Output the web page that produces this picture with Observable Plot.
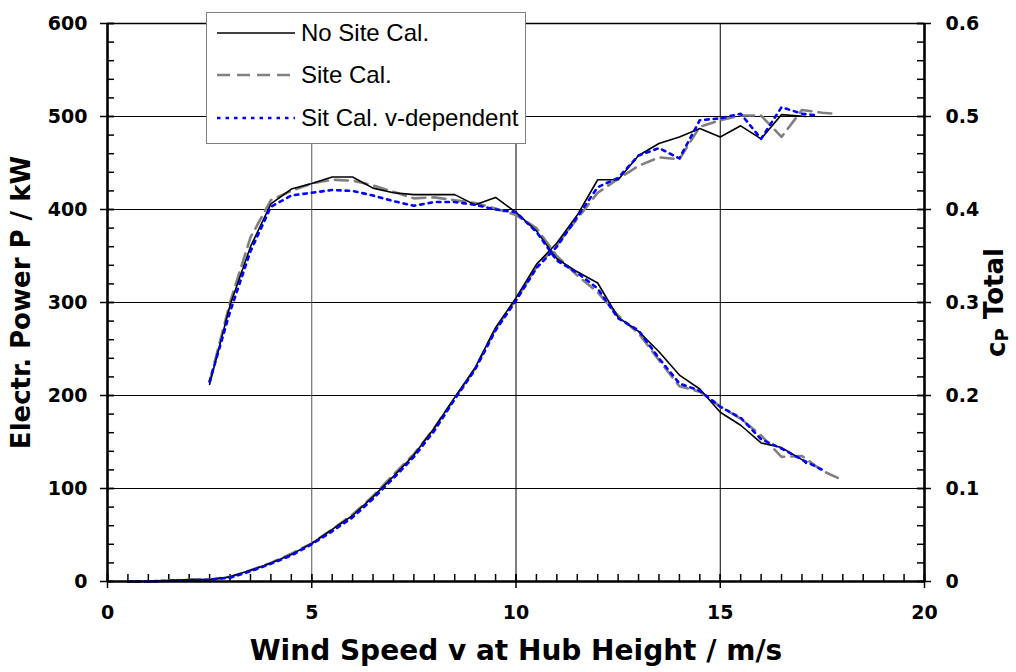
<!DOCTYPE html>
<html><head><meta charset="utf-8">
<script src="https://cdn.jsdelivr.net/npm/d3@7"></script>
<script src="https://cdn.jsdelivr.net/npm/@observablehq/plot@0.6"></script>
<style>
body{margin:0;background:#fff;}
#wrap{position:relative;width:1016px;height:672px;font-family:"Liberation Sans",Arial,sans-serif;}
#chart{position:absolute;left:0;top:0;}
#legend{position:absolute;left:206px;top:12px;width:318px;height:130px;border:1.5px solid #808080;background:#fff;}
.row{position:absolute;left:0;height:30px;display:flex;align-items:center;}
.row svg{margin-left:10px;}
.row span{margin-left:6px;font-size:24px;color:#000;white-space:nowrap;}
</style></head>
<body><div id="wrap"><div id="chart"></div><div id="legend"></div></div>
<script>
// ---- data ----
const seriesNames = ["No Site Cal.", "Site Cal.", "Sit Cal. v-dependent"];

// cP total (right axis)
const vCpNoSite = [2.5,3,3.5,4,4.5,5,5.5,6,6.5,7,7.5,8,8.5,9,9.5,10,10.5,11,11.5,12,12.5,13,13.5,14,14.5,15,15.5,16,16.5,17,17.1];
const cpNoSite  = [0.212,0.297,0.360,0.406,0.422,0.428,0.435,0.435,0.423,0.418,0.416,0.416,0.416,0.405,0.413,0.397,0.377,0.347,0.333,0.321,0.284,0.269,0.247,0.222,0.207,0.182,0.168,0.149,0.144,0.131,0.127];
const vCpSite = [2.5,3,3.5,4,4.5,5,5.5,6,6.5,7,7.5,8,8.5,9,9.5,10,10.5,11,11.5,12,12.5,13,13.5,14,14.5,15,15.5,16,16.5,17,17.5,18];
const cpSite  = [0.215,0.300,0.370,0.410,0.420,0.428,0.432,0.431,0.426,0.419,0.412,0.413,0.410,0.407,0.401,0.394,0.380,0.350,0.329,0.311,0.286,0.267,0.238,0.210,0.204,0.188,0.175,0.157,0.134,0.135,0.119,0.109];
const vCpVdep = [2.5,3,3.5,4,4.5,5,5.5,6,6.5,7,7.5,8,8.5,9,9.5,10,10.5,11,11.5,12,12.5,13,13.5,14,14.5,15,15.5,16,16.5,17,17.5];
const cpVdep  = [0.215,0.290,0.355,0.403,0.415,0.418,0.421,0.420,0.415,0.409,0.404,0.408,0.408,0.405,0.400,0.397,0.376,0.345,0.332,0.315,0.283,0.270,0.240,0.213,0.205,0.188,0.176,0.153,0.143,0.131,0.120];

// Electrical power (left axis, kW)
const vPNoSite = [0.5,1,1.5,2,2.5,3,3.5,4,4.5,5,5.5,6,6.5,7,7.5,8,8.5,9,9.5,10,10.5,11,11.5,12,12.5,13,13.5,14,14.5,15,15.5,16,16.5,17.1];
const pNoSite  = [0,0,1,2,2,5,12,20,29,41,56,71,91,113,136,165,198,230,273,305,341,364,394,432,432,458,471,478,487,478,490,476,502,500];
const vPSite = [0.5,1,1.5,2,2.5,3,3.5,4,4.5,5,5.5,6,6.5,7,7.5,8,8.5,9,9.5,10,10.5,11,11.5,12,12.5,13,13.5,14,14.5,15,15.5,16,16.5,17,17.5,17.8];
const pSite  = [0,0,1,2,2,5,12,20,30,41,56,72,92,115,137,165,197,229,272,303,338,362,390,418,433,447,456,454,489,496,501,501,478,507,504,503];
const vPVdep = [0.5,1,1.5,2,2.5,3,3.5,4,4.5,5,5.5,6,6.5,7,7.5,8,8.5,9,9.5,10,10.5,11,11.5,12,12.5,13,13.5,14,14.5,15,15.5,16,16.5,17,17.4];
const pVdep  = [0,0,1,1,2,4,11,19,28,40,54,69,89,111,134,162,196,228,270,302,337,360,392,424,434,458,466,455,496,498,503,476,510,503,501];

// ticks & labels
const xTicks = [0,5,10,15,20];
const yTicks = [0,100,200,300,400,500,600];
const yRightLabels = ["0","0.1","0.2","0.3","0.4","0.5","0.6"];
const xMinor = d3.range(0, 20.001, 0.5);
const yMinor = d3.range(0, 600.001, 20);
const xGridGrey = [5];
const xGrid = [10,15];
const yGrid = [100,200,300,400,500];
const xTitle = "Wind Speed v at Hub Height / m/s";
const yTitle = "Electr. Power P / kW";
const y2Title = "cP Total";

// ---- styles ----
const styles = [
  {stroke:"#000000", strokeWidth:1.6, dash:null},
  {stroke:"#808080", strokeWidth:2.6, dash:"13,7"},
  {stroke:"#0000ff", strokeWidth:2.6, dash:"3.5,5"}
];
const cpScale = 1000; // right axis 0.6 <-> left axis 600

const table = (vs, ys) => vs.map((v,i) => ({v, y: ys[i]}));
const cpData = [table(vCpNoSite,cpNoSite), table(vCpSite,cpSite), table(vCpVdep,cpVdep)];
const pData = [table(vPNoSite,pNoSite), table(vPSite,pSite), table(vPVdep,pVdep)];

const W=1016, H=672, mL=107, mR=92, mT=23, mB=91;
const plotW = W-mL-mR, plotH = H-mT-mB;
const tk = 7;
const font = '"Liberation Sans", Arial, sans-serif';
const axisFont = '"DejaVu Sans", Verdana, sans-serif';
const tickFS = 19, titleFS = 26, xTitleFS = 28;

const order = [1,0,2];
const lineMarks = [];
for (const i of order) {
  const s = styles[i];
  lineMarks.push(Plot.line(pData[i], {x:"v", y:"y", stroke:s.stroke, strokeWidth:s.strokeWidth, strokeDasharray:s.dash, strokeLinejoin:"round"}));
  lineMarks.push(Plot.line(cpData[i], {x:"v", y:d => d.y*cpScale, stroke:s.stroke, strokeWidth:s.strokeWidth, strokeDasharray:s.dash, strokeLinejoin:"round"}));
}

const chart = Plot.plot({
  width:W, height:H, marginLeft:mL, marginRight:mR, marginTop:mT, marginBottom:mB,
  style:{fontFamily:font, background:"white", color:"black", overflow:"visible"},
  x:{domain:[0,20]},
  y:{domain:[0,600]},
  marks:[
    Plot.ruleY(yGrid, {stroke:"black", strokeWidth:1}),
    Plot.ruleX(xGridGrey, {stroke:"#555555", strokeWidth:1}),
    Plot.ruleX(xGrid, {stroke:"black", strokeWidth:1}),
    Plot.ruleY(yMinor, {insetRight:plotW-tk, stroke:"black", strokeWidth:1.5}),
    Plot.ruleY(yMinor, {insetLeft:plotW-tk, stroke:"black", strokeWidth:1.5}),
    Plot.ruleY(yTicks, {insetLeft:-tk, insetRight:plotW-tk, stroke:"black", strokeWidth:1.5}),
    Plot.ruleY(yTicks, {insetLeft:plotW-tk, insetRight:-tk, stroke:"black", strokeWidth:1.5}),
    Plot.ruleX(xMinor, {insetTop:plotH-tk, stroke:"black", strokeWidth:1.5}),
    Plot.ruleX(xTicks, {insetTop:plotH-tk, insetBottom:-tk, stroke:"black", strokeWidth:1.5}),
    Plot.ruleY([600], {stroke:"black", strokeWidth:1.5}),
    ...lineMarks,
    Plot.ruleX([0], {stroke:"black", strokeWidth:2.6}),
    Plot.ruleX([20], {stroke:"black", strokeWidth:2.6}),
    Plot.ruleY([0], {stroke:"black", strokeWidth:2.6}),
    Plot.axisX({ticks:xTicks, tickSize:0, tickPadding:24, fontSize:tickFS, fontWeight:"bold", fontFamily:axisFont, label:null, tickFormat:d=>String(d)}),
    Plot.axisY({anchor:"left", ticks:yTicks, tickSize:0, tickPadding:20, fontSize:tickFS, fontWeight:"bold", fontFamily:axisFont, label:null, tickFormat:d=>String(d)}),
    Plot.axisY({anchor:"right", ticks:yTicks, tickSize:0, tickPadding:21, fontSize:tickFS, fontWeight:"bold", fontFamily:axisFont, label:null, tickFormat:d=>yRightLabels[yTicks.indexOf(d)]}),
    Plot.text([xTitle], {text:d=>d, frameAnchor:"bottom", textAnchor:"middle", dy:78, fontSize:xTitleFS, fontWeight:"bold", fontFamily:axisFont, fill:"black"}),
    Plot.text([yTitle], {text:d=>d, frameAnchor:"left", textAnchor:"middle", rotate:-90, dx:-86, fontSize:titleFS, fontWeight:"bold", fontFamily:axisFont, fill:"black"}),
    Plot.text([y2Title], {text:d=>d, frameAnchor:"right", textAnchor:"middle", rotate:-90, dx:72, fontSize:titleFS, fontWeight:"bold", fontFamily:axisFont, fill:"black"})
  ]
});
document.getElementById("chart").appendChild(chart);

// subscript P in the right axis title
d3.select(chart).selectAll("text").filter(function(){ return this.textContent === y2Title; }).each(function(){
  const t = d3.select(this);
  t.text(null);
  t.append("tspan").text("c");
  t.append("tspan").attr("font-size","0.7em").attr("dy","0.18em").text("P");
  t.append("tspan").attr("dy","-0.18em").text(" Total");
});

// legend
const legend = document.getElementById("legend");
const rowTops = [5, 47, 90];
seriesNames.forEach((name, i) => {
  const s = styles[i];
  const row = document.createElement("div");
  row.className = "row";
  row.style.top = rowTops[i] + "px";
  row.innerHTML = `<svg width="78" height="10"><line x1="0" y1="5" x2="78" y2="5" stroke="${s.stroke}" stroke-width="${i===0?1.6:2.4}" ${s.dash?`stroke-dasharray="${s.dash}"`:""}/></svg><span>${name}</span>`;
  legend.appendChild(row);
});
</script>
</body></html>
